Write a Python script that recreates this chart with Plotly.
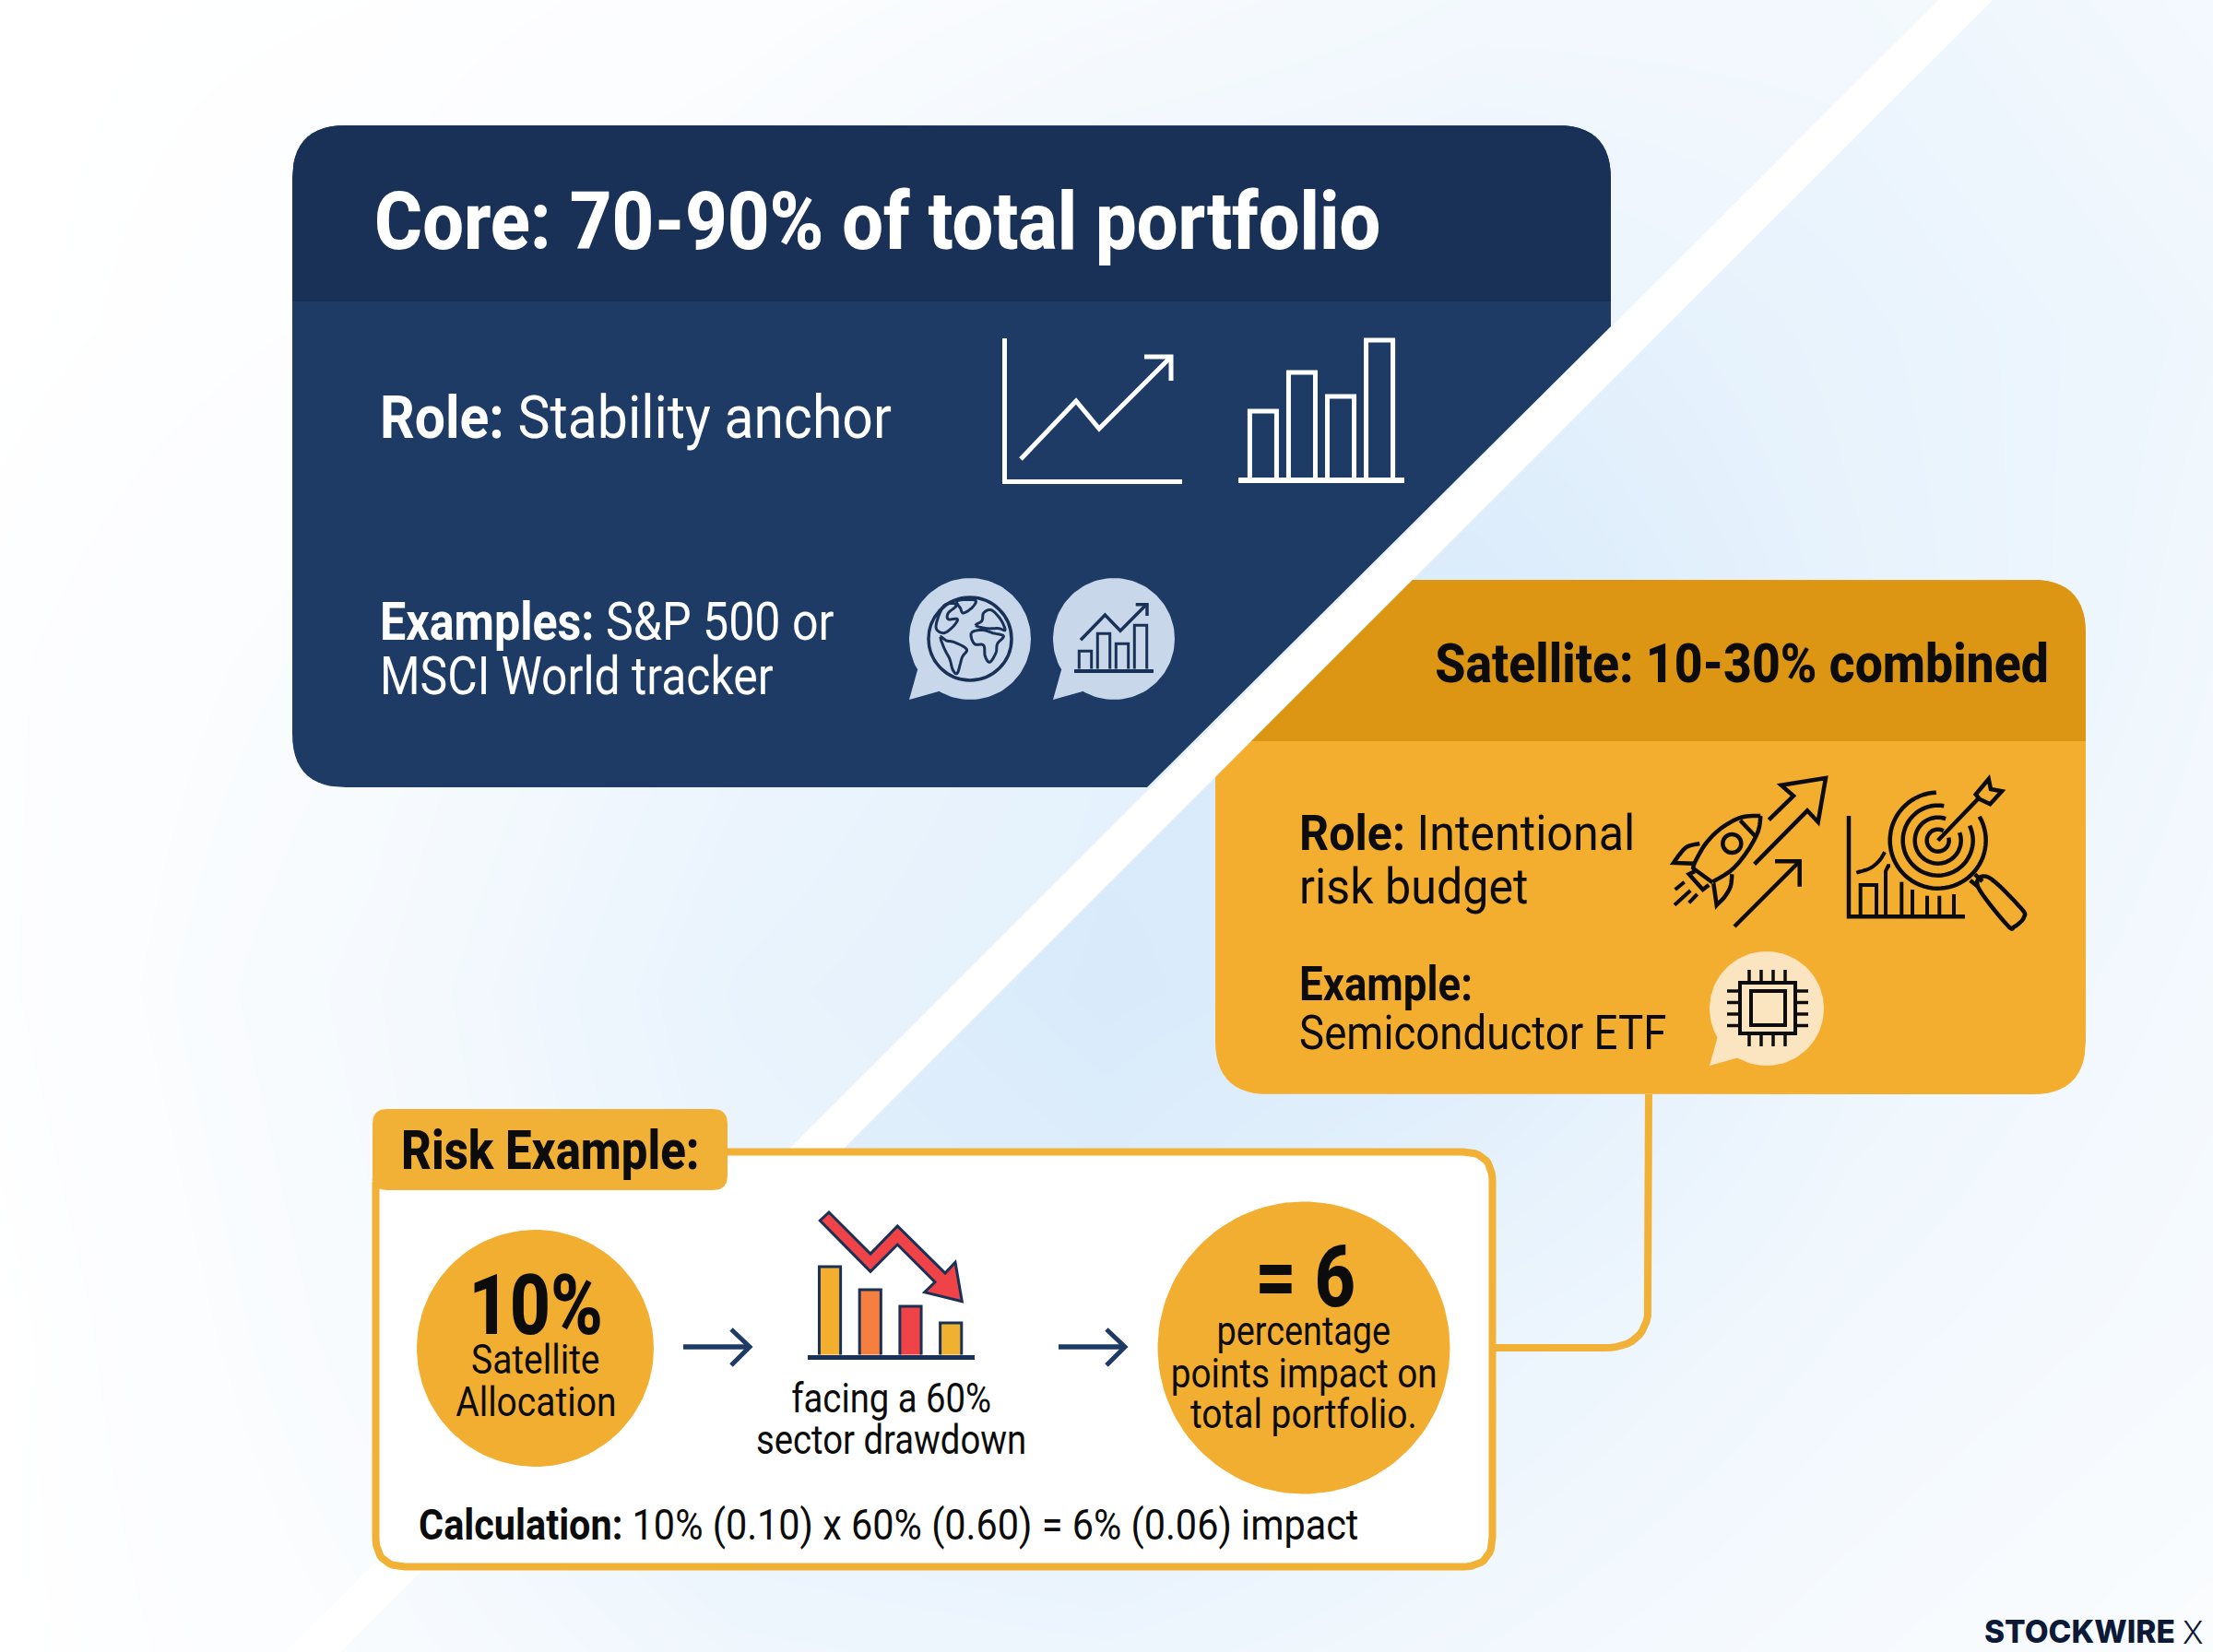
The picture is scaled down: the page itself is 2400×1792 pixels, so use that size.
import json

import numpy as np
import plotly.graph_objects as go

W = 2400
H = 1792

# no narrow face is installed, so Roboto gets squeezed sideways per text (see squeeze_js)
FONT = "Roboto, sans-serif"
NAVY = "#1e3b65"
NAVY_DARK = "#1a3157"
ORANGE = "#f3ae2f"
ORANGE_DARK = "#dc9614"
BLACK = "#0c0c0c"
LINE_ORANGE = "#f0b136"

# chart values
CORE_BARS = [75, 117, 91, 152]
CORE_LINE = [24, 87, 57, 135]
BUBBLE_BARS = [21, 40, 29, 49]
BUBBLE_LINE = [33, 60, 43, 72]
DRAWDOWN_BARS = [98, 73, 55, 37]
DRAWDOWN_COLORS = ["#f3ae2f", "#f47f3e", "#ef4347", "#f0b030"]

# how blue the page background gets, rows top to bottom
BG_TINT = [
    [0.00, 0.02, 0.10, 0.25, 0.40, 0.40, 0.25],
    [0.00, 0.08, 0.30, 0.65, 0.65, 0.50, 0.35],
    [0.05, 0.20, 0.55, 0.80, 0.85, 0.55, 0.30],
    [0.05, 0.30, 0.70, 0.85, 0.75, 0.40, 0.25],
    [0.00, 0.25, 0.60, 0.70, 0.45, 0.30, 0.20],
    [0.00, 0.15, 0.35, 0.40, 0.30, 0.20, 0.10],
]

fig = go.Figure()
shapes = []
squeezes = []
inset_count = 1


def crop(x0, y0, points):
    return [(x0 + a / 3, y0 + b / 3) for a, b in points]


def rounded(points):
    xs, ys = [], []
    n = len(points)
    for i, (x, y, r) in enumerate(points):
        if r == 0:
            xs.append(x)
            ys.append(y)
            continue
        px, py, _ = points[i - 1]
        nx, ny, _ = points[(i + 1) % n]
        a = np.array([x, y], dtype=float)
        to_prev = np.array([px - x, py - y], dtype=float)
        to_next = np.array([nx - x, ny - y], dtype=float)
        start = a + to_prev / np.linalg.norm(to_prev) * r
        end = a + to_next / np.linalg.norm(to_next) * r
        for t in np.linspace(0, 1, 14):
            p = (1 - t) ** 2 * start + 2 * t * (1 - t) * a + t ** 2 * end
            xs.append(p[0])
            ys.append(p[1])
    return xs + xs[:1], ys + ys[:1]


# catmull-rom through the points, used for the curvy icon outlines
def smooth(points, closed=False):
    p = [np.array(q, dtype=float) for q in points]
    if closed:
        p = [p[-1]] + p + [p[0], p[1]]
    else:
        p = [p[0]] + p + [p[-1]]
    out = []
    for i in range(1, len(p) - 2):
        for t in np.linspace(0, 1, 8, endpoint=False):
            q = 0.5 * (2 * p[i] + (p[i + 1] - p[i - 1]) * t
                       + (2 * p[i - 1] - 5 * p[i] + 4 * p[i + 1] - p[i + 2]) * t ** 2
                       + (3 * p[i] - p[i - 1] - 3 * p[i + 1] + p[i + 2]) * t ** 3)
            out.append((q[0], q[1]))
    out.append((p[-2][0], p[-2][1]))
    return out


def fill(xs, ys, color, border=None, border_width=0):
    fig.add_trace(go.Scatter(x=xs, y=ys, mode="lines", fill="toself", fillcolor=color,
                             line=dict(color=border or color, width=border_width if border else 0),
                             hoverinfo="skip", showlegend=False))


def disc(cx, cy, r, color):
    t = np.linspace(0, 2 * np.pi, 120)
    fill(cx + r * np.cos(t), cy + r * np.sin(t), color)


def bubble(cx, cy, r, color):
    disc(cx, cy, r, color)
    fill([cx - r, cx - r * 0.86, cx - r * 0.5, cx - r], [cy + r, cy + r * 0.5, cy + r * 0.86, cy + r], color)


def stroke(points, color, width, closed=False, fillcolor=None):
    d = "M" + " L".join(f"{x:.1f},{y:.1f}" for x, y in points)
    if closed:
        d += " Z"
    shapes.append(dict(type="path", path=d, xref="x", yref="y", layer="above",
                       line=dict(color=color, width=width),
                       fillcolor=fillcolor or "rgba(0,0,0,0)"))


def ring(cx, cy, r, color, width):
    shapes.append(dict(type="circle", xref="x", yref="y", layer="above",
                       x0=cx - r, x1=cx + r, y0=cy - r, y1=cy + r,
                       line=dict(color=color, width=width), fillcolor="rgba(0,0,0,0)"))


def arc(cx, cy, r, start, end, color, width):
    t = np.radians(np.linspace(start, end, 60))
    stroke(list(zip(cx + r * np.cos(t), cy + r * np.sin(t))), color, width)


def text(x, y, label, size, squeeze, color=BLACK, anchor="left", weight=None):
    font = dict(family=FONT, size=size, color=color)
    if weight:
        font["weight"] = weight
    fig.add_annotation(x=x, y=y, text=label, showarrow=False, xanchor=anchor, yanchor="middle", font=font)
    squeezes.append([squeeze, anchor])


# a small real set of axes placed over the page, one for each little chart
def inset(x0, y0, x1, y1, x_range, y_range, color=None, width=0, left_line=False):
    global inset_count
    inset_count += 1
    n = inset_count
    fig.update_layout({
        f"xaxis{n}": dict(domain=[x0 / W, x1 / W], range=x_range, anchor=f"y{n}",
                          showgrid=False, zeroline=False, showticklabels=False, ticks="",
                          showline=bool(color), linecolor=color, linewidth=width, fixedrange=True),
        f"yaxis{n}": dict(domain=[1 - y1 / H, 1 - y0 / H], range=y_range, anchor=f"x{n}",
                          showgrid=False, zeroline=False, showticklabels=False, ticks="",
                          showline=left_line, linecolor=color, linewidth=width, fixedrange=True),
    })
    return f"x{n}", f"y{n}"


def bars(values, colors, line_color, line_width, axes, bar_width):
    fig.add_trace(go.Bar(x=list(range(len(values))), y=values, width=bar_width,
                         marker=dict(color=colors, line=dict(color=line_color, width=line_width)),
                         xaxis=axes[0], yaxis=axes[1], hoverinfo="skip", showlegend=False))


def line(values, color, line_width, axes, positions):
    fig.add_trace(go.Scatter(x=positions, y=values, mode="lines", line=dict(color=color, width=line_width),
                             xaxis=axes[0], yaxis=axes[1], hoverinfo="skip", showlegend=False, cliponaxis=False))


# page background
fig.add_trace(go.Heatmap(z=BG_TINT, x=np.linspace(0, W, len(BG_TINT[0])), y=np.linspace(0, H, len(BG_TINT)),
                         zmin=0, zmax=1, zsmooth="best", showscale=False, hoverinfo="skip",
                         colorscale=[[0, "#ffffff"], [1, "#d2e7fa"]]))
fill([0, 2102, 310, 0], [0, 0, H, H], "rgba(255,255,255,0.3)")
fill([2102, 2161, 369, 310], [0, 0, H, H], "#ffffff")

# core card
x, y = rounded([(317, 136, 58), (1747, 136, 58), (1747, 354, 0), (1244, 854, 0), (317, 854, 58)])
fill(x, y, NAVY)
x, y = rounded([(317, 136, 58), (1747, 136, 58), (1747, 327, 0), (317, 327, 0)])
fill(x, y, NAVY_DARK)

text(404, 239, "Core: 70-90% of total portfolio", 88, 0.903, "#ffffff", weight=800)
text(410, 453, "<b>Role:</b> Stability anchor", 65, 0.906, "#ffffff")
text(410, 674, "<b>Examples:</b> S&P 500 or", 57, 0.88, "#ffffff")
text(410, 733, "MSCI World tracker", 57, 0.875, "#ffffff")

axes = inset(1092, 367, 1282, 519.5, [3, 193], [2.5, 155], "#ffffff", 5, True)
line(CORE_LINE, "#ffffff", 5, axes, [18, 78, 103, 181])
stroke([(1241, 387), (1270, 387), (1270, 413)], "#ffffff", 5)

axes = inset(1343, 361, 1523, 518, [-0.64, 3.64], [3, 160], "#ffffff", 6)
bars(CORE_BARS, "rgba(0,0,0,0)", "#ffffff", 5, axes, 0.69)

bubble(1052, 693, 66, "#c8d8ea")
bubble(1208, 693, 66, "#c8d8ea")

# globe
ring(1052, 693, 45, NAVY_DARK, 3.5)
for land in ([(205, 110), (262, 108), (255, 130), (225, 150), (215, 135)],
             [(158, 130), (190, 118), (200, 128), (175, 150), (175, 170), (205, 170), (190, 195), (160, 215),
              (135, 195)],
             [(150, 228), (170, 240), (195, 245), (235, 268), (220, 295), (205, 345), (190, 335), (180, 300),
              (162, 265)],
             [(250, 215), (285, 205), (320, 215), (355, 225), (335, 250), (330, 280), (310, 310), (295, 290),
              (290, 255), (260, 250)],
             [(265, 190), (285, 175), (290, 150), (315, 140), (345, 170), (360, 205), (340, 200), (300, 200)]):
    stroke(smooth(crop(970, 615, land), True), NAVY_DARK, 3)

axes = inset(1165, 655, 1251, 725.5, [-0.6, 3.7], [2, 72], NAVY_DARK, 4)
bars(BUBBLE_BARS, "rgba(0,0,0,0)", NAVY_DARK, 3, axes, 0.67)
line(BUBBLE_LINE, NAVY_DARK, 3.5, axes, [-0.25, 1.07, 1.9, 3.35])
stroke([(1231.7, 655.7), (1244, 655.7), (1244, 668)], NAVY_DARK, 3.5)

# satellite card, connector goes under it
x, y = rounded([(1532, 629, 0), (2262, 629, 58), (2262, 1187, 58), (1318, 1187, 58), (1318, 843, 0)])
x2, y2 = rounded([(1788, 1187, 0), (1788, 1462, 48), (1621, 1462, 0)])
fig.add_trace(go.Scatter(x=x2[:-1], y=y2[:-1], mode="lines", line=dict(color=LINE_ORANGE, width=8),
                         hoverinfo="skip", showlegend=False))
fill(x, y, ORANGE)
x, y = rounded([(1532, 629, 0), (2262, 629, 58), (2262, 804, 0), (1357, 804, 0)])
fill(x, y, ORANGE_DARK)

text(2224, 719, "Satellite: 10-30% combined", 59, 0.907, anchor="right", weight=800)
text(1407, 903, "<b>Role:</b> Intentional", 54, 0.93)
text(1407, 961, "risk budget", 54, 0.93)
text(1407, 1067, "<b>Example:</b>", 51, 0.895)
text(1407, 1120.5, "Semiconductor ETF", 51, 0.895)

# rocket and arrows
RX, RY = 1800, 830
stroke(smooth(crop(RX, RY, [(328, 165), (265, 170), (200, 205), (150, 255), (115, 315), (108, 340)])), BLACK, 4.5)
stroke(smooth(crop(RX, RY, [(172, 380), (235, 340), (285, 280), (320, 215), (328, 165)])), BLACK, 4.5)
stroke(crop(RX, RY, [(108, 335), (172, 382)]), BLACK, 4.5)
stroke(crop(RX, RY, [(262, 180), (310, 230)]), BLACK, 4.5)
ring(RX + 235 / 3, RY + 255 / 3, 10, BLACK, 4.5)
stroke(smooth(crop(RX, RY, [(130, 255), (90, 265), (65, 290), (45, 318)])) + crop(RX, RY, [(110, 320)]), BLACK, 4.5)
stroke(smooth(crop(RX, RY, [(235, 355), (230, 395), (210, 430), (185, 455)])) + crop(RX, RY, [(175, 385)]), BLACK, 4.5)
stroke(crop(RX, RY, [(115, 345), (95, 355), (140, 405), (160, 390)]), BLACK, 4.5)
stroke(crop(RX, RY, [(80, 380), (50, 405)]), BLACK, 4)
stroke(crop(RX, RY, [(100, 408), (48, 455)]), BLACK, 4)
stroke(crop(RX, RY, [(122, 420), (95, 448)]), BLACK, 4)
stroke(crop(RX, RY, [(355, 178), (435, 100), (395, 65), (540, 42), (515, 185), (480, 148), (308, 322)]), BLACK, 4.5)
stroke(crop(RX, RY, [(243, 525), (450, 318)]), BLACK, 4.5)
stroke(crop(RX, RY, [(375, 313), (455, 313), (455, 395)]), BLACK, 4.5)

# target, magnifier and small chart
TX, TY = 1995, 830
cx, cy = TX + 320 / 3, TY + 245 / 3
arc(cx, cy, 52, -30, 268, BLACK, 4.5)
arc(cx, cy, 38, -25, 280, BLACK, 4.5)
arc(cx, cy, 25, -20, 290, BLACK, 4.5)
arc(cx, cy, 12, -15, 300, BLACK, 4.5)
stroke(crop(TX, TY, [(320, 245), (450, 110)]), BLACK, 4.5)
stroke(crop(TX, TY, [(443, 95), (485, 45), (492, 78), (528, 85), (490, 127), (455, 110)]), BLACK, 4.5, True)
stroke(smooth(crop(TX, TY, [(450, 395), (485, 365), (590, 465), (600, 495), (570, 525), (545, 520)]), True), BLACK, 4.5)
stroke(crop(TX, TY, [(440, 355), (465, 378)]), BLACK, 4.5)
stroke(crop(TX, TY, [(425, 375), (450, 395)]), BLACK, 4.5)
stroke(crop(TX, TY, [(30, 165), (30, 493), (408, 493)]), BLACK, 4.5)
stroke(crop(TX, TY, [(68, 490), (68, 390), (120, 390), (120, 490)]), BLACK, 4)
stroke(smooth(crop(TX, TY, [(55, 350), (100, 335), (130, 310), (147, 283)])), BLACK, 4)
stroke(crop(TX, TY, [(150, 490), (150, 345), (158, 328), (165, 328)]), BLACK, 4)
for zx, top in zip((202, 237, 285, 325, 372), (380, 405, 425, 425, 420)):
    stroke(crop(TX, TY, [(zx, top), (zx, 490)]), BLACK, 4)

# chip
bubble(1916, 1094, 62, "#fbe5c0")
stroke([(1887, 1066), (1947, 1066), (1947, 1121), (1887, 1121)], BLACK, 4, True)
stroke([(1899, 1075), (1936, 1075), (1936, 1112), (1899, 1112)], BLACK, 4, True)
for k in range(4):
    px = 1897 + k * 13
    py = 1075 + k * 12.5
    stroke([(px, 1052), (px, 1066)], BLACK, 3.5)
    stroke([(px, 1121), (px, 1135)], BLACK, 3.5)
    stroke([(1873, py), (1887, py)], BLACK, 3.5)
    stroke([(1947, py), (1961, py)], BLACK, 3.5)

# risk example box
x, y = rounded([(407.5, 1249.5, 32), (1618.5, 1249.5, 32), (1618.5, 1699.5, 32), (407.5, 1699.5, 32)])
fill(x, y, "#ffffff", LINE_ORANGE, 8)
x, y = rounded([(404, 1203, 16), (789, 1203, 16), (789, 1291, 16), (404, 1291, 16)])
fill(x, y, LINE_ORANGE)
text(433, 1247, "Risk Example:", 59, 0.863, weight=800)

disc(580.5, 1462.5, 128.5, "#f2ae30")
disc(1414, 1462, 158.5, "#f2ae30")

text(581, 1416, "10%", 90, 0.855, anchor="center", weight=800)
text(581, 1475, "Satellite", 44, 0.885, anchor="center")
text(581, 1521, "Allocation", 44, 0.886, anchor="center")

text(1415, 1385, "= 6", 92, 0.84, anchor="center", weight=800)
text(1414, 1444, "percentage", 44, 0.86, anchor="center")
text(1414, 1490, "points impact on", 44, 0.88, anchor="center")
text(1414, 1534, "total portfolio.", 44, 0.885, anchor="center")

for x0 in (741, 1148):
    stroke([(x0, 1461), (x0 + 72, 1461)], NAVY, 5.5)
    stroke([(x0 + 52, 1442), (x0 + 72, 1461), (x0 + 52, 1481)], NAVY, 5)

axes = inset(876, 1362, 1057, 1469.5, [-0.55, 3.59], [2.5, 110], NAVY_DARK, 5)
bars(DRAWDOWN_BARS, DRAWDOWN_COLORS, NAVY_DARK, 3, axes, 0.53)
stroke(crop(860, 1300, [(117, 45), (252, 180), (340, 90), (495, 243), (528, 208), (550, 335), (428, 305), (462, 272),
                        (340, 150), (252, 238), (88, 72)]),
       NAVY_DARK, 3, True, "#ef4347")

text(966, 1516.5, "facing a 60%", 44, 0.87, anchor="center")
text(966, 1561.5, "sector drawdown", 44, 0.87, anchor="center")

text(452, 1654, "<b>Calculation:</b> 10% (0.10) x 60% (0.60) = 6% (0.06) impact", 46, 0.9)

# footer mark
fig.add_annotation(x=2150, y=1770, text="STOCKWIRE", showarrow=False, xanchor="left", yanchor="middle",
                   font=dict(family="Inter, sans-serif", size=33.5, color="#0c1a38", weight=800))
squeezes.append([1, "left"])
fig.add_annotation(x=2392, y=1770, text="X", showarrow=False, xanchor="right", yanchor="middle",
                   font=dict(family="Inter, sans-serif", size=34, color="#0c1a38", weight=300))
squeezes.append([1, "right"])

fig.update_layout(
    width=W, height=H, margin=dict(l=0, r=0, t=0, b=0),
    paper_bgcolor="#ffffff", plot_bgcolor="rgba(0,0,0,0)",
    showlegend=False, shapes=shapes,
    xaxis=dict(range=[0, W], visible=False, fixedrange=True),
    yaxis=dict(range=[H, 0], visible=False, fixedrange=True),
)

squeeze_js = """
document.body.style.margin = '0';
document.body.style.overflow = 'hidden';
var squeezes = %s;
document.querySelectorAll('.annotation-text').forEach(function (t, i) {
    var k = squeezes[i][0], a = squeezes[i][1], b = t.getBBox();
    var ax = a === 'left' ? b.x : (a === 'right' ? b.x + b.width : b.x + b.width / 2);
    t.setAttribute('transform', 'translate(' + ax + ',0) scale(' + k + ',1) translate(' + (-ax) + ',0)');
});
""" % json.dumps(squeezes)

fig.write_html("out.html", config={"displayModeBar": False}, post_script=squeeze_js)
